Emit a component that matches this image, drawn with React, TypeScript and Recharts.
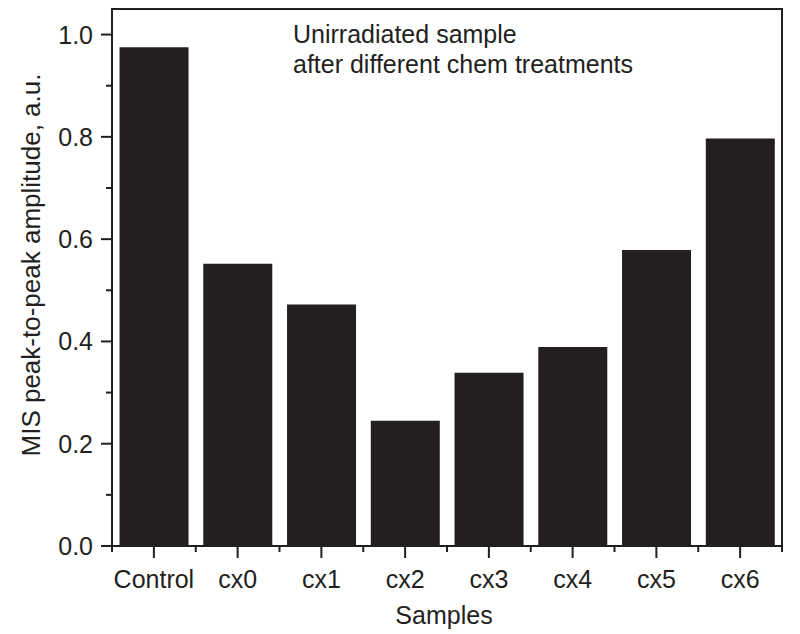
import { BarChart, Bar, XAxis, YAxis } from "recharts";

const samples = ["Control", "cx0", "cx1", "cx2", "cx3", "cx4", "cx5", "cx6"];
const amplitude = [0.975, 0.552, 0.472, 0.245, 0.339, 0.389, 0.579, 0.797];
const yTicks = [0, 0.1, 0.2, 0.3, 0.4, 0.5, 0.6, 0.7, 0.8, 0.9, 1.0];

const data = samples.map((s, i) => ({ name: s, value: amplitude[i] }));

const INK = "#231f20";
const FONT = "'Liberation Sans', Arial, Helvetica, sans-serif";
const W = 800;
const H = 634;
const margin = { top: 9, right: 18, bottom: 28, left: 42 };
const Y_AXIS_W = 70;
const X_AXIS_H = 60;
const PLOT_W = W - margin.left - margin.right - Y_AXIS_W;
const PLOT_H = H - margin.top - margin.bottom - X_AXIS_H;

function YTick(props: any) {
  const { x, y, payload } = props;
  const v = payload.value;
  const major = Math.round(v * 10) % 2 === 0;
  const len = major ? 11 : 6;
  return (
    <g>
      <line x1={x - len} x2={x} y1={y} y2={y} stroke={INK} strokeWidth={2} />
      {major && (
        <text
          x={x - len - 8}
          y={y}
          dy="0.36em"
          textAnchor="end"
          fill={INK}
          fontSize={25}
          fontFamily={FONT}
        >
          {v.toFixed(1)}
        </text>
      )}
    </g>
  );
}

function XTick(props: any) {
  const { x, y, payload, index } = props;
  const band = PLOT_W / samples.length;
  return (
    <g>
      <line x1={x} x2={x} y1={y} y2={y + 12} stroke={INK} strokeWidth={2} />
      <line x1={x - band / 2} x2={x - band / 2} y1={y} y2={y + 6} stroke={INK} strokeWidth={2} />
      {index === samples.length - 1 && (
        <line x1={x + band / 2} x2={x + band / 2} y1={y} y2={y + 6} stroke={INK} strokeWidth={2} />
      )}
      <text
        x={x}
        y={y + 24}
        dy="0.71em"
        textAnchor="middle"
        fill={INK}
        fontSize={25}
        fontFamily={FONT}
      >
        {payload.value}
      </text>
    </g>
  );
}

export default function App() {
  return (
    <div style={{ position: "absolute", left: 0, top: 0, width: W, height: H, background: "#fff", fontFamily: FONT }}>
      <BarChart width={W} height={H} data={data} margin={margin} barCategoryGap="9%">
        <XAxis
          dataKey="name"
          height={X_AXIS_H}
          tickSize={0}
          tickMargin={0}
          tick={<XTick />}
          axisLine={{ stroke: INK, strokeWidth: 2 }}
          interval={0}
        />
        <YAxis
          width={Y_AXIS_W}
          domain={[0, 1.05]}
          ticks={yTicks}
          interval={0}
          tickSize={0}
          tickMargin={0}
          tick={<YTick />}
          axisLine={{ stroke: INK, strokeWidth: 2 }}
          allowDataOverflow
        />
        <Bar dataKey="value" fill={INK} isAnimationActive={false} />
      </BarChart>

      {/* top and right frame lines */}
      <div
        style={{
          position: "absolute",
          left: margin.left + Y_AXIS_W - 1,
          top: margin.top - 1,
          width: PLOT_W,
          height: PLOT_H,
          borderTop: `2px solid ${INK}`,
          borderRight: `2px solid ${INK}`,
          pointerEvents: "none",
        }}
      />

      {/* annotation */}
      <div
        style={{
          position: "absolute",
          left: 293,
          top: 19,
          fontSize: 25,
          lineHeight: "30px",
          color: INK,
          whiteSpace: "nowrap",
        }}
      >
        Unirradiated sample
        <br />
        after different chem treatments
      </div>

      {/* y axis title */}
      <div
        style={{
          position: "absolute",
          left: 31,
          top: 265,
          transform: "translate(-50%, -50%) rotate(-90deg)",
          fontSize: 26,
          color: INK,
          whiteSpace: "nowrap",
        }}
      >
        MIS peak-to-peak amplitude, a.u.
      </div>

      {/* x axis title */}
      <div
        style={{
          position: "absolute",
          left: 444,
          top: 601,
          transform: "translateX(-50%)",
          fontSize: 25,
          color: INK,
          whiteSpace: "nowrap",
        }}
      >
        Samples
      </div>
    </div>
  );
}
